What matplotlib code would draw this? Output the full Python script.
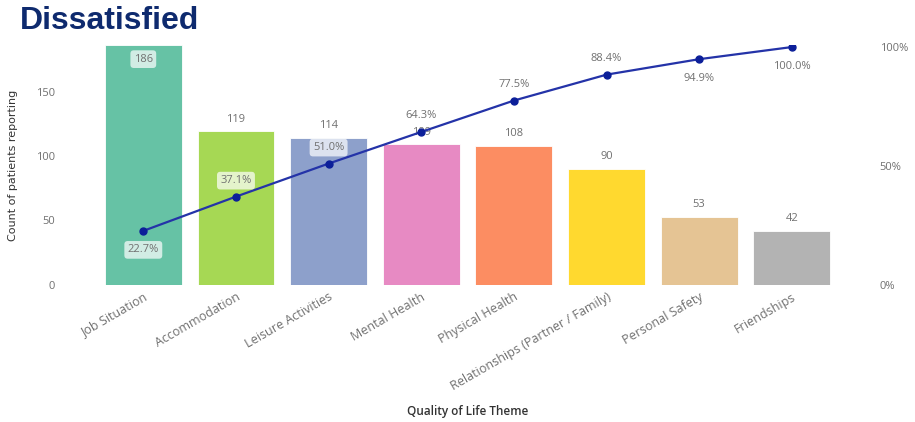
import matplotlib
matplotlib.use("Agg")
import matplotlib.pyplot as plt

themes = ["Job Situation", "Accommodation", "Leisure Activities", "Mental Health",
          "Physical Health", "Relationships (Partner / Family)", "Personal Safety",
          "Friendships"]
counts = [186, 119, 114, 109, 108, 90, 53, 42]
cum_pct = [22.7, 37.1, 51.0, 64.3, 77.5, 88.4, 94.9, 100.0]

colors = ["#66c2a5", "#a6d854", "#8da0cb", "#e78ac3", "#fc8d62", "#ffd92f", "#e5c494", "#b3b3b3"]
# where the percent label sits: +1 above the point, -1 below
pct_side = [-1, 1, 1, 1, 1, 1, -1, -1]
pct_box = [True, True, True, False, False, False, False, False]

plt.rcParams['font.family'] = ['Open Sans', 'DejaVu Sans']
grey = "#707070"

fig = plt.figure(figsize=(9.15, 4.22), dpi=100)
ax = fig.add_axes([0.106, 0.325, 0.81, 0.568])

x = list(range(len(themes)))
ax.bar(x, counts, width=0.83, color=colors, edgecolor="white", linewidth=0.6)
ax.set_xlim(-0.5, 7.5)
ax.set_ylim(0, 186)
ax.set_yticks([0, 50, 100, 150])
ax.set_xticks(x)
ax.set_xticklabels(themes, rotation=30, ha="right", rotation_mode="anchor", fontsize=9, color=grey)
ax.tick_params(axis="both", length=0, labelcolor=grey)
ax.tick_params(axis="y", pad=30, labelsize=8)
ax.tick_params(axis="x", pad=4)
for s in ax.spines.values():
    s.set_visible(False)

ax.set_ylabel("Count of patients reporting", fontsize=8, color="#333333",
              family=["Liberation Sans Narrow", "DejaVu Sans Condensed", "DejaVu Sans"])
ax.yaxis.set_label_coords(-0.107, 0.5)
ax.set_xlabel("Quality of Life Theme", fontsize=8.5, color="#333333", fontweight="semibold")
ax.xaxis.set_label_coords(0.5, -0.50)

# bar value labels
for xi, v in zip(x, counts):
    if v == max(counts):
        ax.annotate(str(v), (xi, v), xytext=(0, -14), textcoords="offset pixels",
                    ha="center", va="center", fontsize=8, color=grey,
                    bbox=dict(boxstyle="round,pad=0.3,rounding_size=0.3", fc="white",
                              ec="none", alpha=0.7))
    else:
        ax.annotate(str(v), (xi, v), xytext=(0, 12), textcoords="offset pixels",
                    ha="center", va="center", fontsize=8, color=grey)

# cumulative line on right axis
ax2 = ax.twinx()
ax2.set_ylim(0, 100.8)
ax2.set_yticks([0, 50, 100])
ax2.set_yticklabels(["0%", "50%", "100%"])
ax2.tick_params(axis="y", length=0, labelsize=8, labelcolor=grey, pad=30)
for s in ax2.spines.values():
    s.set_visible(False)
ax2.plot(x, cum_pct, color="#2433a8", linewidth=1.6, marker="o", markersize=5,
         markerfacecolor="#0c1f99", markeredgecolor="#0c1f99")

for xi, p, side, boxed in zip(x, cum_pct, pct_side, pct_box):
    kw = {}
    if boxed:
        kw["bbox"] = dict(boxstyle="round,pad=0.3,rounding_size=0.3", fc="white",
                          ec="none", alpha=0.7)
    off = 16 if side > 0 else -19
    ax2.annotate(f"{p:.1f}%", (xi, p), xytext=(0, off), textcoords="offset pixels",
                 ha="center", va="center", fontsize=8, color=grey, **kw)

fig.text(0.022, 0.95, "Dissatisfied", fontsize=23, fontweight="bold", color="#0e2a6e",
         family=["Liberation Sans", "DejaVu Sans"], ha="left", va="center")

fig.savefig("out.png", dpi=100)
